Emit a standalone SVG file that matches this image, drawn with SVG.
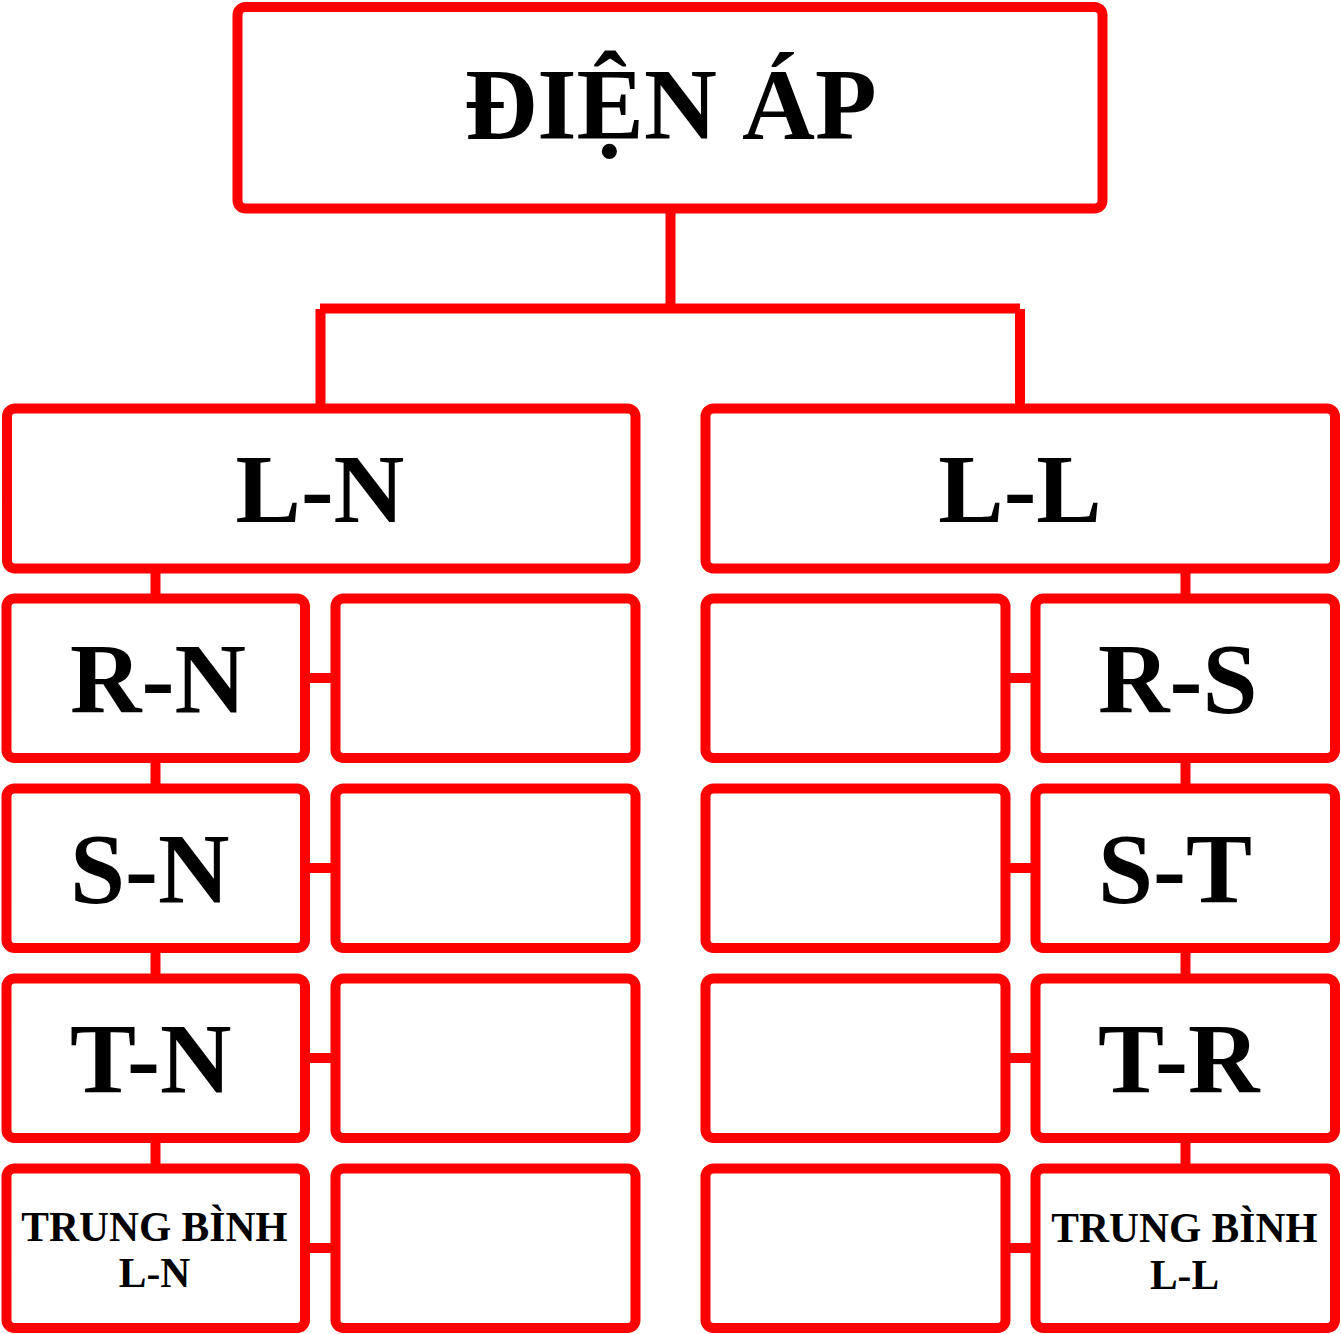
<svg xmlns="http://www.w3.org/2000/svg" width="1341" height="1334" viewBox="0 0 1341 1334">
<style>
.box{fill:#fff;stroke:#ff0000;stroke-width:10}
.ln{stroke:#ff0000;stroke-width:10;fill:none}
.t{font-family:"Liberation Serif","Times New Roman",serif;font-weight:bold;fill:#000}
.big{font-size:99px}
.sm{font-size:41.5px;text-anchor:middle}
</style>
<rect width="1341" height="1334" fill="#fff"/>
<g id="connectors">
<line class="ln" x1="670.5" y1="208" x2="670.5" y2="308.5"/>
<line class="ln" x1="320" y1="308.5" x2="1020" y2="308.5"/>
<line class="ln" x1="320.5" y1="309" x2="320.5" y2="408.5"/>
<line class="ln" x1="1020" y1="309" x2="1020" y2="408.5"/>
<line class="ln" x1="155.5" y1="568" x2="155.5" y2="599"/>
<line class="ln" x1="155.5" y1="758" x2="155.5" y2="789"/>
<line class="ln" x1="155.5" y1="948" x2="155.5" y2="979"/>
<line class="ln" x1="155.5" y1="1138" x2="155.5" y2="1169"/>
<line class="ln" x1="1185.5" y1="568" x2="1185.5" y2="599"/>
<line class="ln" x1="1185.5" y1="758" x2="1185.5" y2="789"/>
<line class="ln" x1="1185.5" y1="948" x2="1185.5" y2="979"/>
<line class="ln" x1="1185.5" y1="1138" x2="1185.5" y2="1169"/>
<line class="ln" x1="305" y1="678" x2="335.5" y2="678"/>
<line class="ln" x1="305" y1="868" x2="335.5" y2="868"/>
<line class="ln" x1="305" y1="1058" x2="335.5" y2="1058"/>
<line class="ln" x1="305" y1="1248" x2="335.5" y2="1248"/>
<line class="ln" x1="1005.5" y1="678" x2="1035.5" y2="678"/>
<line class="ln" x1="1005.5" y1="868" x2="1035.5" y2="868"/>
<line class="ln" x1="1005.5" y1="1058" x2="1035.5" y2="1058"/>
<line class="ln" x1="1005.5" y1="1248" x2="1035.5" y2="1248"/>
</g>
<g id="dien-ap">
<rect class="box" x="237.5" y="7" width="865" height="201.5" rx="8"/>
<text class="t" x="670.5" y="139" font-size="101" text-anchor="middle">ĐIỆN ÁP</text>
</g>
<g id="ln">
<rect class="box" x="7" y="408.5" width="628.5" height="160" rx="8"/>
<text class="t" x="320" y="522" font-size="98" text-anchor="middle">L-N</text>
</g>
<g id="ll">
<rect class="box" x="705.5" y="408.5" width="629.5" height="160" rx="8"/>
<text class="t" x="1020" y="522" font-size="98" text-anchor="middle">L-L</text>
</g>
<g id="rn">
<rect class="box" x="6.5" y="598.5" width="298.5" height="159.5" rx="8"/>
<text class="t big" x="70" y="712">R-N</text>
</g>
<g id="rn-val"><rect class="box" x="335.5" y="598.5" width="300" height="159.5" rx="8"/></g>
<g id="sn">
<rect class="box" x="6.5" y="788.5" width="298.5" height="159.5" rx="8"/>
<text class="t big" x="70" y="902">S-N</text>
</g>
<g id="sn-val"><rect class="box" x="335.5" y="788.5" width="300" height="159.5" rx="8"/></g>
<g id="tn">
<rect class="box" x="6.5" y="978.5" width="298.5" height="159.5" rx="8"/>
<text class="t big" x="70" y="1092">T-N</text>
</g>
<g id="tn-val"><rect class="box" x="335.5" y="978.5" width="300" height="159.5" rx="8"/></g>
<g id="tb-ln">
<rect class="box" x="6.5" y="1168.5" width="298.5" height="159.5" rx="8"/>
<text class="t sm" x="154.5" y="1241">TRUNG BÌNH</text>
<text class="t sm" x="154.5" y="1287">L-N</text>
</g>
<g id="tb-ln-val"><rect class="box" x="335.5" y="1168.5" width="300" height="159.5" rx="8"/></g>
<g id="rs-val"><rect class="box" x="705.5" y="598.5" width="300" height="159.5" rx="8"/></g>
<g id="rs">
<rect class="box" x="1035.5" y="598.5" width="299.5" height="159.5" rx="8"/>
<text class="t big" x="1098" y="712">R-S</text>
</g>
<g id="st-val"><rect class="box" x="705.5" y="788.5" width="300" height="159.5" rx="8"/></g>
<g id="st">
<rect class="box" x="1035.5" y="788.5" width="299.5" height="159.5" rx="8"/>
<text class="t big" x="1098" y="902">S-T</text>
</g>
<g id="tr-val"><rect class="box" x="705.5" y="978.5" width="300" height="159.5" rx="8"/></g>
<g id="tr">
<rect class="box" x="1035.5" y="978.5" width="299.5" height="159.5" rx="8"/>
<text class="t big" x="1098" y="1092">T-R</text>
</g>
<g id="tb-ll-val"><rect class="box" x="705.5" y="1168.5" width="300" height="159.5" rx="8"/></g>
<g id="tb-ll">
<rect class="box" x="1035.5" y="1168.5" width="299.5" height="159.5" rx="8"/>
<text class="t sm" x="1184.5" y="1242">TRUNG BÌNH</text>
<text class="t sm" x="1184.5" y="1289">L-L</text>
</g>
</svg>
